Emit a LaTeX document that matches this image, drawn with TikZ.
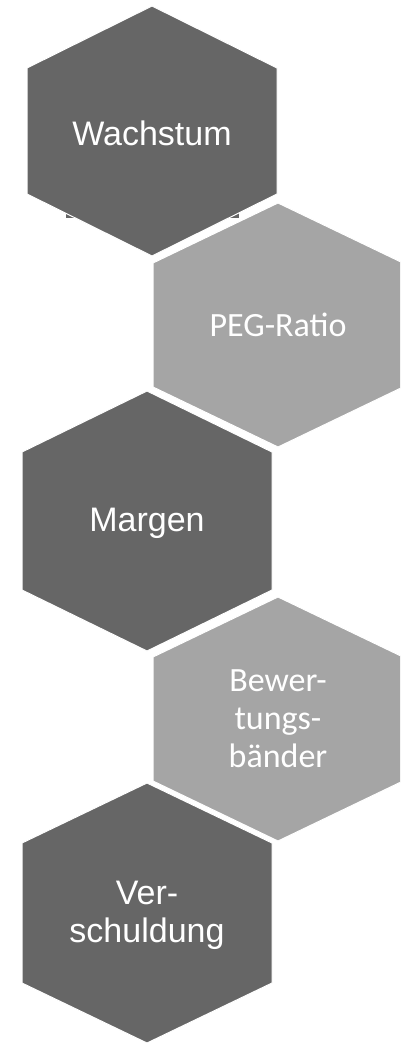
\documentclass[tikz,border=0pt]{standalone}
\usepackage{fontspec}
\setmainfont{Liberation Sans}
\newfontfamily\hxcalibri{Carlito}
\usetikzlibrary{calc}
\definecolor{hxdark}{HTML}{666666}
\definecolor{hxlight}{HTML}{A5A5A5}
\tikzset{
 hx dark/.style={fill=hxdark,draw=white,line width=1pt},
 hx light/.style={fill=hxlight,draw=white,line width=1pt},
 hx label/.style={text=white,align=center,inner sep=0pt,
                  font=\fontsize{34}{38}\selectfont},
 hx label light/.style={hx label,font=\hxcalibri\fontsize{34}{38}\selectfont}
}
\begin{document}
\begin{tikzpicture}[x=1pt,y=-1pt]
 \useasboundingbox (0,0) rectangle (400,1043);
 \clip (0,0) rectangle (400,1043);
 \fill[hxdark] (66,150) rectangle (239,218);
 \foreach \n/\x/\y/\h/\s/\t in {wachstum/152/131/125/63/Wachstum,
     margen/147/521/130/69/Margen,
     verschuldung/147/913/130/70/{Ver-\\schuldung}}{
   \coordinate (c\n) at (\x,\y);
   \draw[hx dark] ($(c\n)+(0,-\h)$) -- ($(c\n)+(125,-\s)$) -- ($(c\n)+(125,\s)$)
     -- ($(c\n)+(0,\h)$) -- ($(c\n)+(-125,\s)$) -- ($(c\n)+(-125,-\s)$) -- cycle;
   \node[hx label] (\n) at ($(c\n)+(0,2)$) {\t};
 }
 \foreach \n/\x/\y/\t in {peg/278/325/PEG-Ratio,
     bewertung/278/719/{Bewer-\\tungs-\\bänder}}{
   \coordinate (c\n) at (\x,\y);
   \draw[hx light] ($(c\n)+(0,-122)$) -- ($(c\n)+(125,-62)$) -- ($(c\n)+(125,62)$)
     -- ($(c\n)+(0,122)$) -- ($(c\n)+(-125,62)$) -- ($(c\n)+(-125,-62)$) -- cycle;
   \node[hx label light] (\n) at (c\n) {\t};
 }
\end{tikzpicture}
\end{document}
